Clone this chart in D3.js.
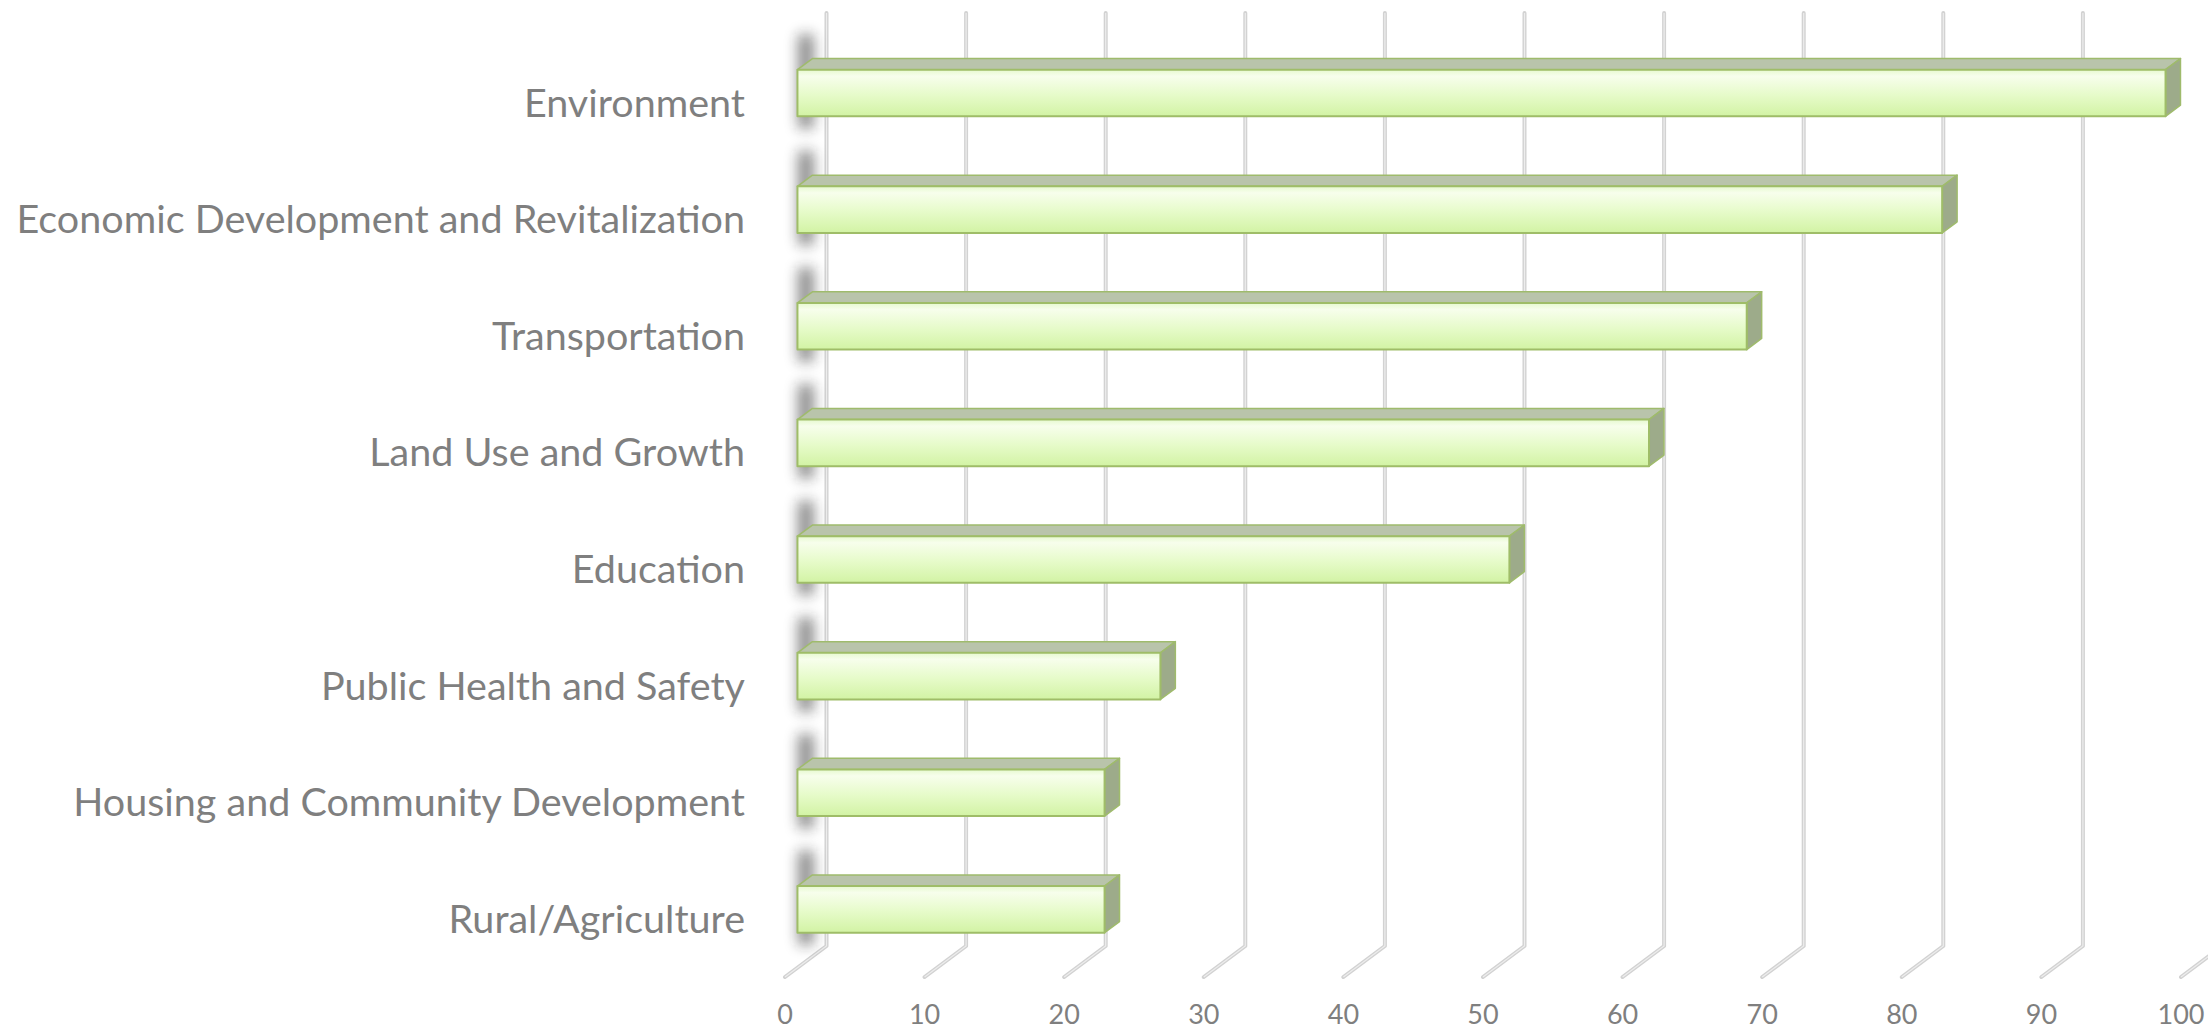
<!DOCTYPE html>
<html>
<head>
<meta charset="utf-8">
<script src="https://cdn.jsdelivr.net/npm/d3@7"></script>
<style>
  html, body { margin: 0; padding: 0; background: #fff; }
  svg { display: block; }
  .cat-label, .tick-label { font-family: Lato, "Open Sans", sans-serif; fill: #7f7f7f; }
</style>
</head>
<body>
<div id="chart"></div>
<script>
const categories = [
  "Environment",
  "Economic Development and Revitalization",
  "Transportation",
  "Land Use and Growth",
  "Education",
  "Public Health and Safety",
  "Housing and Community Development",
  "Rural/Agriculture",
];
const values = [98, 82, 68, 61, 51, 26, 22, 22];
const tickValues = [0, 10, 20, 30, 40, 50, 60, 70, 80, 90, 100];

const width = 2208;
const height = 1031;
// offset of the front plane from the back wall
const depth = { dx: 41.5, dy: 31 };
// bar sits between these fractions of the depth (0 = front, 1 = back)
const barFront = 0.3;
const barBack = 0.66;

const data = categories.map((d, i) => ({ category: d, value: values[i] }));

const x = d3.scaleLinear().domain([0, 100]).range([826.5, 2222.5]);
const y = d3
  .scaleBand()
  .domain(categories)
  .range([13, 946])
  .paddingInner(0.6)
  .paddingOuter(0.3);

// project a point at value v, wall-y yy, depth d
function project(v, yy, d) {
  return [x(v) - (1 - d) * depth.dx, yy + (1 - d) * depth.dy];
}
const pts = (arr) => arr.map((p) => p.join(",")).join(" ");

const svg = d3
  .select("#chart")
  .append("svg")
  .attr("width", width)
  .attr("height", height)
  .attr("viewBox", [0, 0, width, height]);

const defs = svg.append("defs");
const grad = defs
  .append("linearGradient")
  .attr("id", "front-grad")
  .attr("x1", 0)
  .attr("y1", 0)
  .attr("x2", 0)
  .attr("y2", 1);
grad.append("stop").attr("offset", "0%").attr("stop-color", "#e6f9cf");
grad.append("stop").attr("offset", "14%").attr("stop-color", "#f7feec");
grad.append("stop").attr("offset", "55%").attr("stop-color", "#e6fbc9");
grad.append("stop").attr("offset", "100%").attr("stop-color", "#d2f3a4");

defs
  .append("filter")
  .attr("id", "shadow-blur")
  .attr("x", "-150%")
  .attr("y", "-50%")
  .attr("width", "400%")
  .attr("height", "200%")
  .append("feGaussianBlur")
  .attr("stdDeviation", 7);

// grid lines: vertical on back wall + diagonal on floor
const [wallTop, wallBottom] = y.range();
const gridPath = (d) =>
  `M${x(d)},${wallTop}L${x(d)},${wallBottom}L${x(d) - depth.dx},${wallBottom + depth.dy}`;
const gGrid = svg.append("g").attr("class", "grid");
gGrid
  .selectAll("path.grid-outer")
  .data(tickValues)
  .join("path")
  .attr("class", "grid-outer")
  .attr("d", gridPath)
  .attr("fill", "none")
  .attr("stroke", "#d2d2d2")
  .attr("stroke-width", 4)
  .attr("stroke-linecap", "round")
  .attr("stroke-linejoin", "round");
gGrid
  .selectAll("path.grid-inner")
  .data(tickValues)
  .join("path")
  .attr("class", "grid-inner")
  .attr("d", gridPath)
  .attr("fill", "none")
  .attr("stroke", "#ededed")
  .attr("stroke-width", 1.2);

// bars
const bar = svg
  .append("g")
  .attr("class", "bars")
  .selectAll("g.bar")
  .data(data)
  .join("g")
  .attr("class", "bar");

bar
  .append("rect")
  .attr("class", "shadow")
  .attr("x", (d) => project(0, 0, barBack)[0] - 14)
  .attr("y", (d) => project(0, y(d.category), barBack)[1] - 24)
  .attr("width", 15)
  .attr(
    "height",
    (d) =>
      project(0, y(d.category) + y.bandwidth(), barFront)[1] -
      project(0, y(d.category), barBack)[1] +
      36
  )
  .attr("fill", "#222")
  .attr("opacity", 0.55)
  .attr("filter", "url(#shadow-blur)");

bar
  .append("polygon")
  .attr("class", "top-face")
  .attr("points", (d) => {
    const t = y(d.category);
    return pts([
      project(0, t, barFront),
      project(d.value, t, barFront),
      project(d.value, t, barBack),
      project(0, t, barBack),
    ]);
  })
  .attr("fill", "#b9c4ab")
  .attr("stroke", "#9fbb6c")
  .attr("stroke-width", 1.5)
  .attr("stroke-linejoin", "round");

bar
  .append("polygon")
  .attr("class", "side-face")
  .attr("points", (d) => {
    const t = y(d.category);
    const b = t + y.bandwidth();
    return pts([
      project(d.value, t, barFront),
      project(d.value, t, barBack),
      project(d.value, b, barBack),
      project(d.value, b, barFront),
    ]);
  })
  .attr("fill", "#9dab8a")
  .attr("stroke", "#9fbb6c")
  .attr("stroke-width", 1.5)
  .attr("stroke-linejoin", "round");

bar
  .append("polygon")
  .attr("class", "front-face")
  .attr("points", (d) => {
    const t = y(d.category);
    const b = t + y.bandwidth();
    return pts([
      project(0, t, barFront),
      project(d.value, t, barFront),
      project(d.value, b, barFront),
      project(0, b, barFront),
    ]);
  })
  .attr("fill", "url(#front-grad)")
  .attr("stroke", "#9fbd68")
  .attr("stroke-width", 2)
  .attr("stroke-linejoin", "round");

// category labels
svg
  .append("g")
  .selectAll("text")
  .data(categories)
  .join("text")
  .attr("class", "cat-label")
  .attr("x", x(0) - depth.dx - 40)
  .attr("y", (d) => y(d) + y.bandwidth() / 2 + depth.dy)
  .attr("dy", "0.36em")
  .attr("text-anchor", "end")
  .attr("font-size", 39.5)
  .text((d) => d);

// value axis labels
svg
  .append("g")
  .selectAll("text")
  .data(tickValues)
  .join("text")
  .attr("class", "tick-label")
  .attr("x", (d) => x(d) - depth.dx)
  .attr("y", 1014)
  .attr("dy", "0.36em")
  .attr("text-anchor", "middle")
  .attr("font-size", 27)
  .text((d) => d);
</script>
</body>
</html>
